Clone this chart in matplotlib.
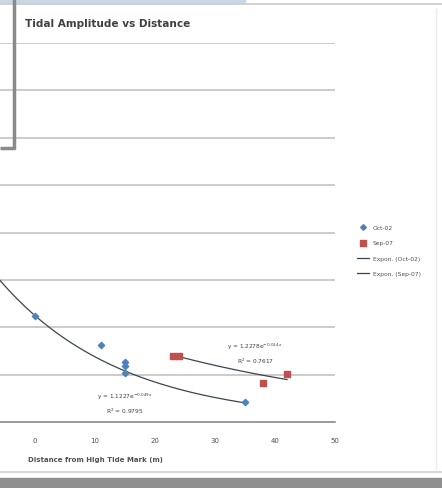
import numpy as np
import matplotlib
matplotlib.use("Agg")
import matplotlib.pyplot as plt
from matplotlib.lines import Line2D
from matplotlib.patches import Rectangle

# ---- data ----
oct_x = [0, 11, 15, 15, 15, 35]
oct_y = [1.12, 0.81, 0.63, 0.59, 0.52, 0.21]
sep_x = [23, 24, 38, 42]
sep_y = [0.70, 0.70, 0.41, 0.51]
oct_fit = (1.1227, -0.049)   # y = a * exp(b x)
sep_fit = (1.2278, -0.024)
oct_eq = ["y = 1.1227e$^{-0.049x}$", "R$^2$ = 0.9795"]
sep_eq = ["y = 1.2278e$^{-0.024x}$", "R$^2$ = 0.7617"]
x_ticks = [0, 10, 20, 30, 40, 50]
y_grid = [0.5, 1.0, 1.5, 2.0, 2.5, 3.0, 3.5, 4.0]

W, H = 442, 489
fig = plt.figure(figsize=(W / 100, H / 100), dpi=100)
fig.patch.set_facecolor("white")

def fx(px):
    return px / W

def fy(py):
    return 1 - py / H

ax = fig.add_axes([0, fy(423), fx(335), (423 - 44) / H])
ax.set_xlim(-35 / 6, 50)
ax.set_ylim(0, 4.0)
ax.set_facecolor("none")
for s in ["top", "right", "left"]:
    ax.spines[s].set_visible(False)
ax.spines["bottom"].set_color("#808080")
ax.spines["bottom"].set_linewidth(1.1)
ax.set_yticks(y_grid)
ax.yaxis.grid(True, color="#c2c2c2", linewidth=1.2)
ax.tick_params(axis="y", left=False, labelleft=False)
ax.set_xticks(x_ticks)
ax.set_xticklabels([str(v) for v in x_ticks], fontsize=5, color="#505050")
ax.tick_params(axis="x", length=0, pad=11)
ax.set_axisbelow(True)

# scatter
h_oct = ax.scatter(oct_x, oct_y, marker="D", s=10, color="#4F81BD", zorder=3, label="Oct-02")
h_sep = ax.scatter(sep_x, sep_y, marker="s", s=22, color="#C0504D", zorder=3, label="Sep-07")

# trendlines
xo = np.linspace(-8, max(oct_x), 200)
l_oct, = ax.plot(xo, oct_fit[0] * np.exp(oct_fit[1] * xo), color="#3c4650", lw=0.9,
                 zorder=2, label="Expon. (Oct-02)")
xs = np.linspace(min(sep_x), max(sep_x), 100)
l_sep, = ax.plot(xs, sep_fit[0] * np.exp(sep_fit[1] * xs), color="#3c4650", lw=0.9,
                 zorder=2, label="Expon. (Sep-07)")

# equation labels
ax.text(15, 0.205, oct_eq[0] + "\n" + oct_eq[1], fontsize=4.2, color="#404040",
        ha="center", va="center", linespacing=1.6)
ax.text(36.7, 0.73, sep_eq[0] + "\n" + sep_eq[1], fontsize=4.2, color="#404040",
        ha="center", va="center", linespacing=1.6)

# axis title
ax.set_xlabel("Distance from High Tide Mark (m)", fontsize=5, fontweight="bold",
              color="#505050")
ax.xaxis.set_label_coords(95 / 335, -(457 - 423) / (423 - 44))

# chart title
fig.text(fx(25), fy(24), "Tidal Amplitude vs Distance", fontsize=7.6,
         fontweight="bold", color="#404040", ha="left", va="center")

# legend
fig.legend(handles=[h_oct, h_sep, l_oct, l_sep], loc="upper left",
           bbox_to_anchor=(fx(352), fy(220)), frameon=False, fontsize=4.3,
           labelspacing=1.75, handlelength=2.0, handletextpad=0.6,
           labelcolor="#505050", markerscale=0.9)

# screen decorations around the cropped chart
fig.add_artist(Rectangle((0, fy(3)), fx(245), 3 / H, color="#c9d8e6", transform=fig.transFigure))
fig.add_artist(Line2D([0, 1], [fy(5), fy(5)], color="#c8c8c8", lw=1.2, transform=fig.transFigure))
fig.add_artist(Line2D([fx(13.5), fx(13.5)], [fy(0), fy(150)], color="#8a8a8a", lw=2.5,
                      solid_capstyle="butt", transform=fig.transFigure))
fig.add_artist(Line2D([0, fx(15)], [fy(149), fy(149)], color="#8a8a8a", lw=2.5,
                      solid_capstyle="butt", transform=fig.transFigure))
fig.add_artist(Line2D([0, 1], [fy(473), fy(473)], color="#d0d0d0", lw=1.2, transform=fig.transFigure))
fig.add_artist(Rectangle((0, 0), 1, (489 - 479) / H, color="#8f8f8f", transform=fig.transFigure))
fig.add_artist(Line2D([fx(436), fx(436)], [fy(10), fy(470)], color="#ececec", lw=1.0,
                      transform=fig.transFigure))

fig.savefig("out.png", dpi=100, facecolor="white")
